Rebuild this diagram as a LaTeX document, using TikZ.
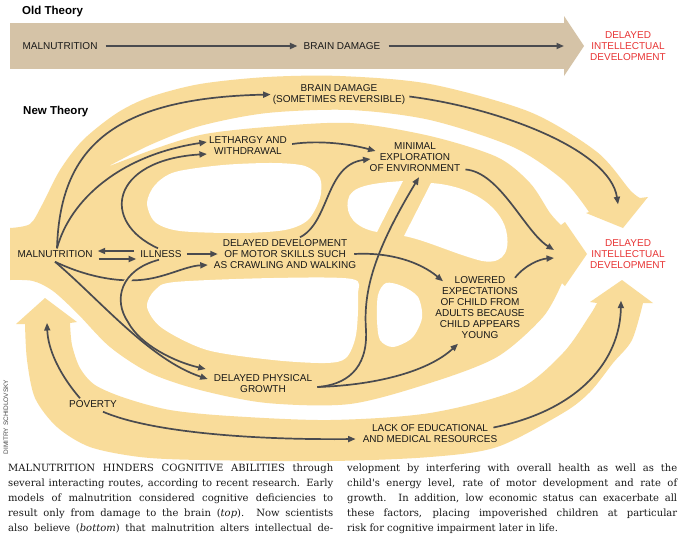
\documentclass[tikz,border=0pt]{standalone}
\usepackage{fontspec}
\usetikzlibrary{arrows.meta,calc}
\newfontfamily\labfont{Liberation Sans}
\newfontfamily\capfont{DejaVu Serif}
\definecolor{bandY}{RGB}{249,220,154}
\definecolor{bandT}{RGB}{213,195,167}
\definecolor{conn}{RGB}{74,75,79}
\definecolor{redT}{RGB}{232,52,52}
\definecolor{txt}{RGB}{25,25,25}
\begin{document}
\begin{tikzpicture}[x=1pt,y=-1pt,
  lbl/.style={font={\labfont\fontsize{10}{11}\selectfont}, text=txt, align=center, inner sep=2pt},
  redlbl/.style={lbl, text=redT},
  ttl/.style={font={\labfont\bfseries\fontsize{11.5}{12}\selectfont}, text=black, anchor=west, inner sep=0pt},
  arr/.style={draw=conn, line width=1.7pt, -{Triangle[length=7.5pt,width=6pt]}},
  halo/.style={draw=bandY, line width=6pt},
  capstyle/.style={anchor=base west, inner sep=0pt, font={\capfont\fontsize{10}{15}\selectfont}, text=txt}
]
\useasboundingbox (0,0) rectangle (685,542);
\fill[white] (0,0) rectangle (685,542);

% ---------- Old theory band ----------
\fill[bandT] (10,23) rectangle (564,69);
\fill[bandT] (564,16) -- (584,46) -- (564,76) -- cycle;

% ---------- New theory bands ----------
\fill[bandY] (10,280) -- (10,228)
 -- plot[smooth] coordinates {(10,228) (30,224) (42,205) (60,170) (83,140) (117,113) (150,97) (200,84) (267,77) (340,76) (430,84) (530,112) (597,152) (630,190) (640,198)}
 -- (648,197) -- (623,228) -- (586,213)
 -- plot[smooth] coordinates {(589,212) (563,180) (513,147) (430,120) (350,110) (267,113) (200,126) (150,145) (107,167)}
 -- plot[smooth] coordinates {(107,167) (160,147) (205,134) (267,127) (350,123) (430,136) (497,157) (530,183) (550,213) (561,225)}
 -- (565,222) -- (587,254) -- (565,286)
 -- plot[smooth] coordinates {(562,283) (543,317) (497,357) (430,383) (350,404) (267,403) (200,390) (150,373) (110,347) (77,313) (53,291) (33,281) (10,280)}
 -- cycle;

\fill[bandY] (16,324) -- (45,298) -- (77,322) -- (70,323)
 -- plot[smooth] coordinates {(70,323) (72,345) (80,368) (95,385) (125,398) (170,410) (230,416) (330,420) (430,413) (517,390) (563,353) (590,315) (597,303)}
 -- (590,302) -- (622,280) -- (653,303) -- (643,303)
 -- plot[smooth] coordinates {(643,303) (632,340) (613,363) (590,392) (563,413) (497,447) (430,457) (330,461) (200,460) (140,457) (90,447) (57,427) (35,398) (27,360) (25,324)}
 -- cycle;

% holes
\fill[white] plot[smooth cycle] coordinates {(147,203) (155,185) (175,172) (223,165) (273,163) (305,166) (320,178) (320,198) (308,220) (285,230) (240,233) (180,231) (155,222)};
\fill[white] plot[smooth cycle] coordinates {(147,307) (155,290) (175,282) (273,278) (352,279) (358,295) (356,335) (346,358) (325,363) (273,360) (207,350) (162,328)};
\fill[white] (403,181) -- (377,232) .. controls (355,228) and (345,215) .. (348,200) .. controls (350,186) and (372,183) .. (403,181) -- cycle;
\fill[white] (431,183) -- (404,236) .. controls (425,240) and (450,252) .. (478,260) .. controls (500,266) and (510,255) .. (507,235) .. controls (504,210) and (475,186) .. (431,183) -- cycle;
\fill[white] plot[smooth cycle] coordinates {(386,283) (378,295) (377,320) (380,340) (393,347) (412,338) (422,318) (418,297) (402,286)};

% ---------- Titles ----------
\node[ttl] (oldt) at (22,12) {Old Theory};
\node[ttl] (newt) at (23,112) {New Theory};

% ---------- Old theory labels ----------
\node[lbl] (omal) at (60,46) {MALNUTRITION};
\node[lbl] (obd) at (342,46) {BRAIN DAMAGE};
\node[redlbl] (odid) at (628,46) {DELAYED\\INTELLECTUAL\\DEVELOPMENT};
\coordinate (oend) at (564,46);

% ---------- New theory labels ----------
\node[lbl] (nbd) at (339,94.5) {BRAIN DAMAGE\\(SOMETIMES REVERSIBLE)};
\node[lbl] (leth) at (248,146) {LETHARGY AND\\WITHDRAWAL};
\node[lbl] (mini) at (415,157.5) {MINIMAL\\EXPLORATION\\OF ENVIRONMENT};
\node[lbl] (mal) at (55,254) {MALNUTRITION};
\node[lbl] (ill) at (161,254) {ILLNESS};
\node[lbl] (ddm) at (285,254) {DELAYED DEVELOPMENT\\OF MOTOR SKILLS SUCH\\AS CRAWLING AND WALKING};
\node[lbl] (low) at (480,307.5) {LOWERED\\EXPECTATIONS\\OF CHILD FROM\\ADULTS BECAUSE\\CHILD APPEARS\\YOUNG};
\node[lbl] (dpg) at (263,384) {DELAYED PHYSICAL\\GROWTH};
\node[lbl] (pov) at (93,404) {POVERTY};
\node[lbl] (lack) at (430,433.5) {LACK OF EDUCATIONAL\\AND MEDICAL RESOURCES};
\node[redlbl] (did) at (628,254) {DELAYED\\INTELLECTUAL\\DEVELOPMENT};
\coordinate (povup) at (47,323);

\node[rotate=90, inner sep=0pt, font={\labfont\fontsize{6.5}{7}\selectfont}, text=black!70] (credit) at (6,417) {DIMITRY SCHIDLOVSKY};

% ---------- Old theory connectors ----------
\draw[arr] ([xshift=6pt]omal.east) -- ([xshift=-4pt]obd.west);
\draw[arr] ([xshift=6pt]obd.east) -- (oend);

% ---------- New theory connectors ----------
\draw[arr] ([xshift=2pt]mal.north) .. controls (60,150) and (110,98) .. (nbd.west);
\draw[arr] ([xshift=2pt]mal.north) .. controls (70,200) and (120,155) .. ([yshift=4pt]leth.west);
\draw[arr] ([xshift=-3pt]ill.north) .. controls (100,222) and (110,160) .. ([yshift=-8pt]leth.west);
\draw[arr] ([xshift=3pt,yshift=2pt]leth.east) .. controls (320,140) and (350,144) .. ([xshift=8pt,yshift=6.5pt]mini.west);
\draw[arr] ([xshift=15pt]ddm.north) .. controls (330,222) and (325,165) .. ([xshift=3pt,yshift=-1.5pt]mini.west);
\draw[arr] ([xshift=3pt,yshift=-3pt]dpg.east) .. controls (345,385) and (368,370) .. (366,330) .. controls (363,290) and (375,250) .. ([xshift=4pt,yshift=-3pt]mini.south);
\draw[arr] ([xshift=3pt,yshift=-3pt]dpg.east) .. controls (380,385) and (430,370) .. ([xshift=-22pt,yshift=-3pt]low.south);
\draw[arr] ([xshift=-4pt]ddm.east) .. controls (390,252) and (420,262) .. ([xshift=-37pt,yshift=-7pt]low.north);
\draw[arr] ([xshift=3pt,yshift=-12pt]mini.east) .. controls (500,172) and (525,232) .. ([xshift=-34pt,yshift=4pt]did.west);
\draw[arr] ([xshift=35pt,yshift=-3.5pt]low.north) .. controls (525,265) and (540,259) .. ([xshift=-34pt,yshift=-4pt]did.west);
\draw[arr] ([xshift=2pt,yshift=-2pt]nbd.east) .. controls (500,108) and (610,150) .. ([xshift=-10pt,yshift=33pt]did.north);
\draw[arr] ([xshift=-4pt,yshift=3pt]ill.west) -- ([xshift=3pt,yshift=3pt]mal.east);
\draw[arr] ([xshift=4pt,yshift=-5pt]mal.east) -- ([xshift=-2pt,yshift=-5pt]ill.west);
\draw[arr] ([xshift=3pt]ill.east) -- ([xshift=6pt]ddm.west);
\draw[arr] ([yshift=-2pt]mal.south) .. controls (85,276) and (115,282) .. (140,280) .. controls (165,278) and (185,266) .. ([xshift=-4pt,yshift=-11pt]ddm.west);
\draw[arr] ([yshift=-2pt]mal.south) .. controls (100,300) and (150,360) .. ([xshift=-4pt,yshift=5pt]dpg.west);
\draw[halo] (135.5,270.5) -- (123.5,286);
\draw[arr] ([xshift=-2pt]ill.south) .. controls (120,270) and (113,300) .. (128,322) .. controls (140,345) and (175,362) .. ([xshift=-6pt,yshift=15pt]dpg.west);
\draw[arr] ([xshift=-13pt]pov.north) .. controls (60,375) and (48,350) .. (povup);
\draw[arr] ([xshift=10pt,yshift=-2pt]pov.south) .. controls (150,432) and (250,440) .. ([xshift=-5pt,yshift=-5.5pt]lack.west);
\draw[arr] ([xshift=-6pt,yshift=6pt]lack.east) .. controls (580,410) and (620,360) .. ([xshift=-7pt,yshift=-30pt]did.south);

% ---------- Caption ----------
\node[capstyle] (capL) at (8,531) {\vbox{\baselineskip=15pt
\hbox to 325pt{MALNUTRITION HINDERS COGNITIVE ABILITIES through}
\hbox to 325pt{several interacting routes, according to recent research. Early}
\hbox to 325pt{models of malnutrition considered cognitive deficiencies to}
\hbox to 325pt{result only from damage to the brain (\textit{top}). Now scientists}
\hbox to 325pt{also believe (\textit{bottom}) that malnutrition alters intellectual de-}}};
\node[capstyle] (capR) at (347,531) {\vbox{\baselineskip=15pt
\hbox to 330pt{velopment by interfering with overall health as well as the}
\hbox to 330pt{child's energy level, rate of motor development and rate of}
\hbox to 330pt{growth. In addition, low economic status can exacerbate all}
\hbox to 330pt{these factors, placing impoverished children at particular}
\hbox{risk for cognitive impairment later in life.}}};
\end{tikzpicture}
\end{document}
